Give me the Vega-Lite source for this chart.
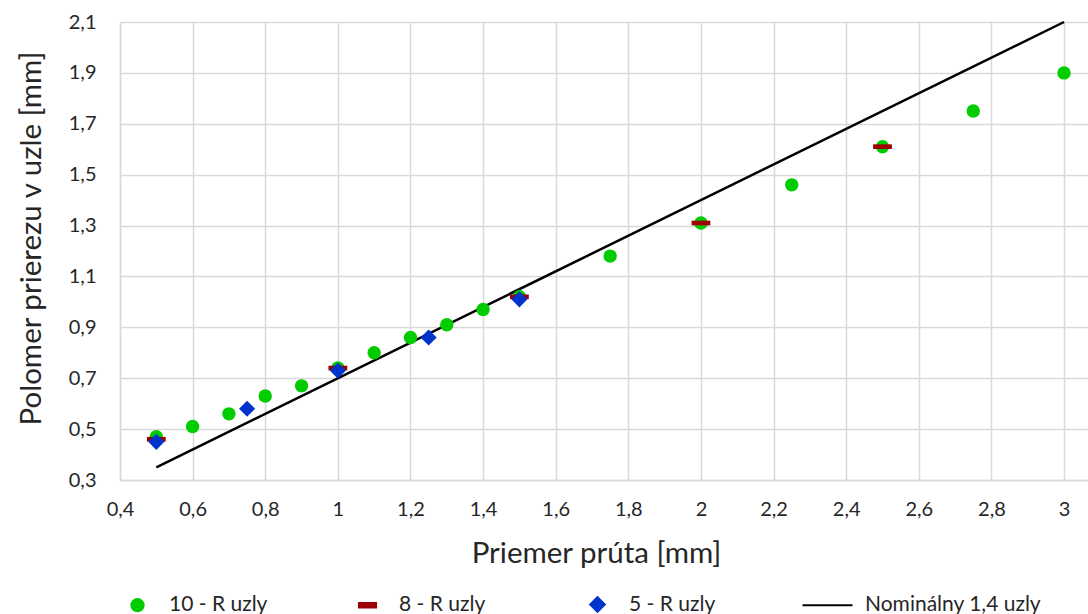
{
  "$schema": "https://vega.github.io/schema/vega-lite/v6.json",
  "autosize": "none",
  "width": 968,
  "height": 458,
  "padding": {"left": 120, "top": 22, "right": 0, "bottom": 134},
  "background": "white",
  "config": {
    "font": "Lato",
    "view": {"stroke": null},
    "axis": {
      "labelFont": "Lato", "labelFontSize": 20, "labelColor": "#262626",
      "titleFont": "Lato", "titleFontSize": 29.5, "titleFontWeight": "normal", "titleColor": "#262626",
      "gridColor": "#D9D9D9", "gridWidth": 1.5, "domainColor": "#D9D9D9", "domainWidth": 1.5,
      "ticks": false
    }
  },
  "datasets": {
    "pts": [
      {"x": 0.5, "y": 0.47, "series": "10 - R uzly"},
      {"x": 0.6, "y": 0.51, "series": "10 - R uzly"},
      {"x": 0.7, "y": 0.56, "series": "10 - R uzly"},
      {"x": 0.8, "y": 0.63, "series": "10 - R uzly"},
      {"x": 0.9, "y": 0.67, "series": "10 - R uzly"},
      {"x": 1.0, "y": 0.74, "series": "10 - R uzly"},
      {"x": 1.1, "y": 0.80, "series": "10 - R uzly"},
      {"x": 1.2, "y": 0.86, "series": "10 - R uzly"},
      {"x": 1.3, "y": 0.91, "series": "10 - R uzly"},
      {"x": 1.4, "y": 0.97, "series": "10 - R uzly"},
      {"x": 1.5, "y": 1.02, "series": "10 - R uzly"},
      {"x": 1.75, "y": 1.18, "series": "10 - R uzly"},
      {"x": 2.0, "y": 1.31, "series": "10 - R uzly"},
      {"x": 2.25, "y": 1.46, "series": "10 - R uzly"},
      {"x": 2.5, "y": 1.61, "series": "10 - R uzly"},
      {"x": 2.75, "y": 1.75, "series": "10 - R uzly"},
      {"x": 3.0, "y": 1.90, "series": "10 - R uzly"},
      {"x": 0.5, "y": 0.46, "series": "8 - R uzly"},
      {"x": 1.0, "y": 0.74, "series": "8 - R uzly"},
      {"x": 1.5, "y": 1.02, "series": "8 - R uzly"},
      {"x": 2.0, "y": 1.31, "series": "8 - R uzly"},
      {"x": 2.5, "y": 1.61, "series": "8 - R uzly"},
      {"x": 0.5, "y": 0.45, "series": "5 - R uzly"},
      {"x": 0.75, "y": 0.58, "series": "5 - R uzly"},
      {"x": 1.0, "y": 0.73, "series": "5 - R uzly"},
      {"x": 1.25, "y": 0.86, "series": "5 - R uzly"},
      {"x": 1.5, "y": 1.01, "series": "5 - R uzly"}
    ],
    "nom": [
      {"x": 0.5, "y": 0.35, "series": "Nominálny 1,4 uzly"},
      {"x": 3.0, "y": 2.1, "series": "Nominálny 1,4 uzly"}
    ]
  },
  "encoding": {
    "x": {
      "field": "x", "type": "quantitative",
      "scale": {"domain": [0.4, 3.066], "nice": false, "zero": false},
      "axis": {
        "title": "Priemer prúta [mm]",
        "values": [0.4, 0.6, 0.8, 1, 1.2, 1.4, 1.6, 1.8, 2, 2.2, 2.4, 2.6, 2.8, 3],
        "labelExpr": "replace(format(datum.value, '~g'), '.', ',')",
        "labelPadding": 19, "titlePadding": 20, "labelFlush": false,
        "titleX": 476
      }
    },
    "y": {
      "field": "y", "type": "quantitative",
      "scale": {"domain": [0.3, 2.1], "nice": false, "zero": false},
      "axis": {
        "title": "Polomer prierezu v uzle [mm]",
        "values": [0.3, 0.5, 0.7, 0.9, 1.1, 1.3, 1.5, 1.7, 1.9, 2.1],
        "labelExpr": "replace(format(datum.value, '.1f'), '.', ',')",
        "labelPadding": 24, "titlePadding": 22, "labelFlush": false,
        "titleY": 216
      }
    },
    "color": {
      "field": "series", "type": "nominal",
      "scale": {
        "domain": ["10 - R uzly", "8 - R uzly", "5 - R uzly", "Nominálny 1,4 uzly"],
        "range": ["#00CC00", "#9C0006", "#0033CC", "#000000"]
      },
      "legend": {
        "orient": "none", "legendX": 7, "legendY": 572,
        "direction": "horizontal", "columns": 4, "columnPadding": -14,
        "gridAlign": "all",
        "title": null,
        "labelFont": "Lato", "labelFontSize": 21, "labelColor": "#262626",
        "labelOffset": 21, "labelLimit": 400,
        "encode": {
          "symbols": {
            "update": {
              "size": {"signal": "datum.value === 'Nominálny 1,4 uzly' ? 2500 : 150"},
              "stroke": {"signal": "datum.value === 'Nominálny 1,4 uzly' ? '#000000' : 'transparent'"},
              "strokeWidth": {"value": 2}
            }
          },
          "labels": {
            "update": {
              "dx": {"signal": "datum.value === 'Nominálny 1,4 uzly' ? 6 : 0"}
            }
          }
        }
      }
    },
    "shape": {
      "field": "series", "type": "nominal",
      "scale": {
        "domain": ["10 - R uzly", "8 - R uzly", "5 - R uzly", "Nominálny 1,4 uzly"],
        "range": ["circle", "M-1.4,-0.35H1.4V0.35H-1.4Z", "M0,-1.2L1.2,0L0,1.2L-1.2,0Z", "stroke"]
      }
    }
  },
  "layer": [
    {
      "data": {"name": "nom"},
      "mark": {"type": "line", "color": "#000000", "strokeWidth": 2.5},
      "encoding": {"shape": null}
    },
    {
      "data": {"name": "pts"},
      "mark": {"type": "point", "filled": true, "opacity": 1, "size": 180}
    }
  ]
}
